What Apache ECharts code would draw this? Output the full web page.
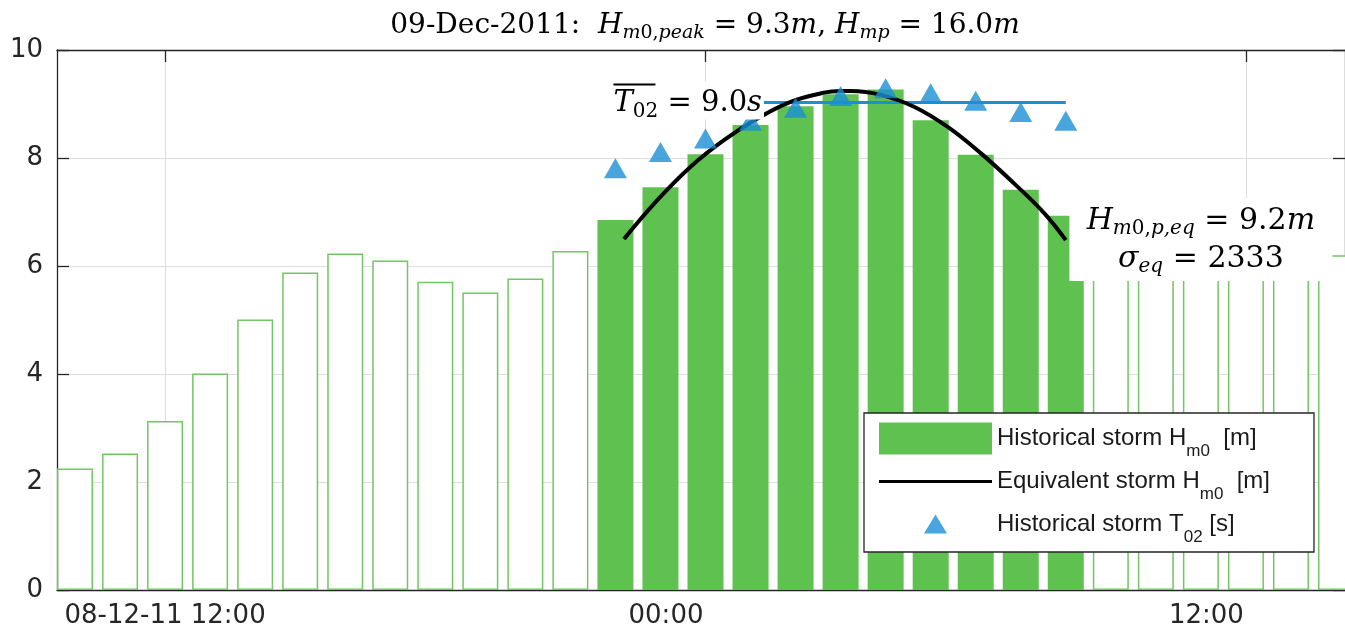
<!DOCTYPE html>
<html><head><meta charset="utf-8">
<script src="https://cdn.jsdelivr.net/npm/echarts@6/dist/echarts.min.js"></script>
<style>html,body{margin:0;padding:0;background:#fff}#c{width:1345px;height:633px}</style>
</head><body><div id="c"></div>
<script>
// time unit: hours since 08-Dec-2011 00:00
const preHours = [10, 11, 12, 13, 14, 15, 16, 17, 18, 19, 20, 21];
const preHm0 = [2.25, 2.53, 3.13, 4.01, 5.01, 5.88, 6.23, 6.10, 5.71, 5.51, 5.77, 6.28];
const stormHours = [22, 23, 24, 25, 26, 27, 28, 29, 30, 31, 32];
const stormHm0 = [6.85, 7.46, 8.07, 8.61, 8.96, 9.18, 9.27, 8.70, 8.06, 7.41, 6.93];
const postHours = [33, 34, 35, 36, 37, 38];
const postHm0 = [6.5, 6.4, 6.3, 6.3, 6.2, 6.2];
const stormT02 = [7.81, 8.11, 8.36, 8.69, 8.93, 9.15, 9.29, 9.20, 9.06, 8.85, 8.69];
const meanT02 = 9.03;
const meanT02Hours = [22, 32];
const eqHours = [22.19, 22.93, 23.67, 24.41, 25.15, 25.89, 26.63, 27.0, 27.22, 27.89, 28.63, 29.37, 30.11, 30.85, 31.52, 32.0];
const eqHm0 = [6.50, 7.22, 7.84, 8.33, 8.73, 9.04, 9.21, 9.24, 9.24, 9.17, 8.95, 8.58, 8.09, 7.53, 6.98, 6.48];
const xTickHours = [12, 24, 36];
const xTickLabels = ['08-12-11 12:00', '00:00', '12:00'];
const eqLabelPos = [35, 6.49];

const SANS = 'DejaVu Sans, sans-serif';
const LSANS = 'Liberation Sans, Arial, sans-serif';
const SERIF = 'DejaVu Serif, serif';
const AX = '#262626';
const GREEN = '#5fc150';
const BLUE = '#1a8fd6';

const zip = (a, b) => a.map((v, i) => [v, b[i]]);

const chart = echarts.init(document.getElementById('c'), null, {renderer: 'canvas'});

const legendNames = ['Historical storm Hm0 [m]', 'Equivalent storm Hm0 [m]', 'Historical storm T02 [s]'];
const legendRich = {
  n: {fontFamily: LSANS, fontSize: 24, color: '#1a1a1a', lineHeight: 30},
  s: {fontFamily: LSANS, fontSize: 17, color: '#1a1a1a', lineHeight: 30, padding: [26, 0, 0, 0]}
};

function mathRich(size, sub, lh, subPad) {
  const base = {fontFamily: SERIF, color: '#000', fontWeight: 'normal', lineHeight: lh, align: 'center'};
  return {
    n: Object.assign({}, base, {fontSize: size}),
    i: Object.assign({}, base, {fontSize: size, fontStyle: 'italic'}),
    s: Object.assign({}, base, {fontSize: sub, padding: [subPad, 0, 0, 0]}),
    si: Object.assign({}, base, {fontSize: sub, fontStyle: 'italic', padding: [subPad, 0, 0, 0]})
  };
}

const t02Rich = mathRich(29, 20, 32, 16);
t02Rich.ov = {width: 42, height: 2, lineHeight: 6, backgroundColor: '#000', fontSize: 2};

const option = {
  animation: false,
  backgroundColor: '#fff',
  title: {
    left: 700, top: 5, textAlign: 'center',
    text: '{n|09-Dec-2011:  }{i|H}{si|m}{s|0,}{si|peak}{n| = 9.3}{i|m}{n|, }{i|H}{si|mp}{n| = 16.0}{i|m}',
    textStyle: {fontWeight: 'normal', rich: mathRich(28, 19, 32, 14)}
  },
  grid: {left: 57, right: 0, top: 50, bottom: 43, containLabel: false},
  xAxis: [{
    type: 'value', min: 9.6, max: 38.2,
    axisLine: {show: true, onZero: false, lineStyle: {color: AX, width: 1.3}},
    axisTick: {show: true, inside: true, length: 12, customValues: xTickHours, lineStyle: {color: AX, width: 1.3}},
    splitLine: {show: true, lineStyle: {color: '#dedede', width: 1}},
    axisLabel: {
      customValues: xTickHours, margin: 13, color: AX, fontFamily: SANS, fontSize: 26,
      formatter: function (v) {
        const i = xTickHours.indexOf(v);
        if (i === 0) return xTickLabels[0];
        return '{r|' + xTickLabels[i] + '}';
      },
      rich: {r: {fontFamily: SANS, fontSize: 26, color: AX, padding: [0, 79, 0, 0]}}
    }
  }, {
    type: 'value', min: 9.6, max: 38.2, position: 'top',
    axisLine: {show: true, onZero: false, lineStyle: {color: AX, width: 1.3}},
    axisTick: {show: true, inside: true, length: 12, customValues: xTickHours, lineStyle: {color: AX, width: 1.3}},
    axisLabel: {show: false}, splitLine: {show: false}
  }],
  yAxis: [{
    type: 'value', min: 0, max: 10, interval: 2,
    axisLine: {show: true, onZero: false, lineStyle: {color: AX, width: 1.3}},
    axisTick: {show: true, inside: true, length: 12, lineStyle: {color: AX, width: 1.3}},
    splitLine: {show: true, lineStyle: {color: '#dedede', width: 1}},
    axisLabel: {margin: 14, color: AX, fontFamily: SANS, fontSize: 26}
  }, {
    type: 'value', min: 0, max: 10, interval: 2, position: 'right',
    axisLine: {show: true, onZero: false, lineStyle: {color: AX, width: 1.3}},
    axisTick: {show: true, inside: true, length: 12, lineStyle: {color: AX, width: 1.3}},
    splitLine: {show: false}, axisLabel: {show: false}
  }],
  legend: {
    orient: 'vertical', left: 874, top: 412, z: 4,
    itemWidth: 113, itemHeight: 32, itemGap: 0,
    selectedMode: false,
    data: [
      {name: legendNames[0], icon: 'rect'},
      {name: legendNames[1], icon: 'path://M0,0 M113,32 M0,14.5 L113,14.5 L113,17.5 L0,17.5 Z'},
      {name: legendNames[2], icon: 'path://M0,0 M113,32 M45,25 L68,25 L56.5,6 Z'}
    ],
    formatter: function (name) {
      if (name === legendNames[0]) return '{n|Historical storm H}{s|m0}{n|  [m]}';
      if (name === legendNames[1]) return '{n|Equivalent storm H}{s|m0}{n|  [m]}';
      return '{n|Historical storm T}{s|02}{n| [s]}';
    },
    textStyle: {padding: [0, 0, 0, 0], rich: legendRich}
  },
  graphic: [{
    type: 'rect', z: 3, silent: true,
    shape: {x: 864, y: 413, width: 450, height: 139},
    style: {fill: '#fff', stroke: AX, lineWidth: 1.3}
  }],
  series: [{
    name: 'background Hm0', type: 'bar', silent: true, z: 2,
    barWidth: 36, barGap: '-100%',
    data: zip(preHours, preHm0).concat(zip(postHours, postHm0)),
    itemStyle: {color: '#fff', borderColor: '#74c566', borderWidth: 1.5}
  }, {
    name: legendNames[0], type: 'bar', silent: true, z: 2,
    barWidth: 36, barGap: '-100%',
    data: zip(stormHours, stormHm0),
    itemStyle: {color: GREEN}
  }, {
    name: 'mean T02', type: 'line', silent: true, z: 3,
    data: zip(meanT02Hours, meanT02Hours.map(() => meanT02)),
    symbol: 'none', lineStyle: {color: BLUE, width: 3}, itemStyle: {color: BLUE},
    markPoint: {
      silent: true, z: 7, symbol: 'circle', symbolSize: 0,
      data: [{coord: [meanT02Hours[0], meanT02]}],
      label: {
        show: true, position: 'right', distance: 0, offset: [-2, -2],
        backgroundColor: '#fff', padding: [0, 2, 0, 0],
        formatter: '{ov| }\n{i|T}{s|02}{n| = 9.0}{i|s}',
        rich: t02Rich
      }
    }
  }, {
    name: legendNames[1], type: 'line', silent: true, z: 5,
    data: zip(eqHours, eqHm0), smooth: 0.4,
    symbol: 'none', lineStyle: {color: '#000', width: 4}, itemStyle: {color: '#000'},
    markPoint: {
      silent: true, z: 6, symbol: 'circle', symbolSize: 0,
      data: [{coord: eqLabelPos}],
      label: {
        show: true, position: 'inside', backgroundColor: '#fff',
        width: 263, align: 'center', padding: [4, 0, 3, 0],
        formatter: '{i|H}{si|m}{s|0,}{si|p,eq}{n| = 9.2}{i|m}\n{i|σ}{si|eq}{n| = 2333}',
        rich: mathRich(30, 20, 38, 16)
      }
    }
  }, {
    name: legendNames[2], type: 'scatter', silent: true, z: 6,
    data: zip(stormHours, stormT02),
    symbol: 'triangle', symbolSize: [23, 20],
    itemStyle: {color: BLUE}
  }]
};
chart.setOption(option);
</script>
</body></html>
